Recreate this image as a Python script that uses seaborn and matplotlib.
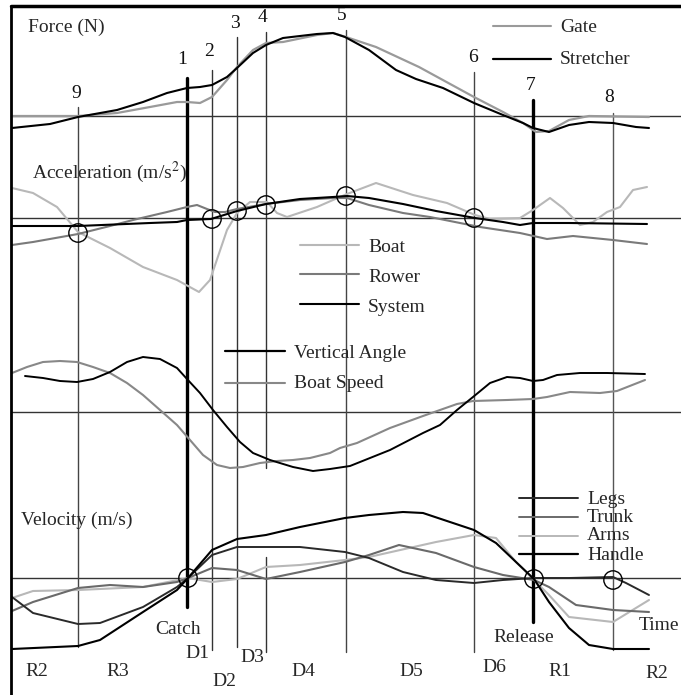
import matplotlib
matplotlib.use("Agg")
import matplotlib.pyplot as plt
import numpy as np
import pandas as pd
import seaborn as sns

# ---------------- data (time in cs from start of trace) ----------------
# Force (N, relative to the reference line)
stretcher_t = [0, 19, 33, 52.5, 65.5, 77.5, 87.5, 94, 100, 107.5, 112.5, 120.5, 127, 135.5,
               152.5, 160.5, 166.5, 178.5, 192, 202, 215.5, 231, 245.5, 255.5, 260.5, 268.5,
               278.5, 288.5, 300.5, 312, 318.5]
stretcher_f = [-120, -80, -10, 60, 140, 230, 280, 290, 310, 390, 480, 630, 710, 780,
               820, 830, 790, 660, 460, 370, 280, 130, 10, -70, -120, -160,
               -90, -60, -70, -110, -120]
gate_t = [0, 33, 52.5, 69, 82.5, 87.5, 94, 100, 107.5, 112.5, 120.5, 127, 135.5, 152.5,
          160.5, 167, 182, 203.5, 231, 245.5, 255.5, 262, 268.5, 278.5, 288.5, 318.5]
gate_f = [0, 0, 30, 90, 140, 140, 130, 190, 360, 490, 660, 730, 740, 810,
          830, 790, 690, 490, 190, 40, -70, -160, -150, -40, 0, -10]

# Acceleration (m/s^2)
system_t = [0, 33, 69, 82.5, 87.5, 99.5, 112.5, 127, 144, 160.5, 167.5, 178.5, 195.5, 212,
            231.5, 245.5, 254, 260.5, 278.5, 317.5]
system_a = [-0.8, -0.8, -0.5, -0.4, -0.2, -0.1, 0.7, 1.4, 1.9, 2.1, 2.2, 2.0, 1.4, 0.7,
            0.0, -0.4, -0.7, -0.5, -0.5, -0.6]
rower_t = [0, 10.5, 33, 49, 60.5, 77.5, 87.5, 92.5, 97.5, 101.5, 106.5, 112.5, 127, 144,
           160.5, 167.5, 178.5, 195.5, 209, 234, 254, 267.5, 280.5, 300.5, 317.5]
rower_a = [-2.7, -2.4, -1.6, -0.8, -0.2, 0.6, 1.1, 1.3, 0.9, 0.6, 0.6, 0.9, 1.4, 1.8,
           2.0, 2.0, 1.3, 0.5, 0.1, -0.9, -1.5, -2.1, -1.8, -2.2, -2.6]
boat_t = [0, 10.5, 22.5, 33, 49, 65.5, 82.5, 93.5, 99, 107.5, 112.5, 119, 127.5, 132.5,
          137.5, 152.5, 160.5, 167.5, 182, 200.5, 217.5, 231.5, 239, 254, 260.5,
          269, 275.5, 284, 290.5, 297.5, 304, 310.5, 317.5]
boat_a = [3.0, 2.5, 1.1, -1.4, -3.0, -4.9, -6.2, -7.4, -6.2, -1.2, 0.5, 1.6, 1.6, 0.5,
          0.1, 1.1, 1.8, 2.4, 3.5, 2.3, 1.5, 0.3, -0.1, 0.0, 0.8,
          2.0, 1.0, -0.7, -0.4, 0.6, 1.1, 2.8, 3.1]

# Oar vertical angle and boat speed (relative units)
angle_t = [6.5, 15.5, 24, 32.5, 40.5, 49, 57.5, 65.5, 74, 82.5, 87.5, 94, 100.5, 107.5,
           114, 120.5, 129, 140.5, 150.5, 159, 169, 189, 205.5, 214, 222.5, 230.5, 239,
           247.5, 254, 260.5, 265.5, 272.5, 284, 297.5, 316.5]
angle_v = [3.6, 3.4, 3.1, 3.0, 3.3, 4.0, 5.0, 5.5, 5.3, 4.4, 3.3, 1.9, 0.2, -1.5,
           -3.0, -4.1, -4.8, -5.5, -5.9, -5.7, -5.4, -3.8, -2.1, -1.3, 0.2, 1.5, 2.9,
           3.5, 3.4, 3.1, 3.2, 3.7, 3.9, 3.9, 3.8]
speed_t = [0, 7.5, 15.5, 24, 32.5, 40.5, 49, 57.5, 65.5, 74, 82.5, 89, 95.5, 102.5, 109,
           115.5, 124, 132.5, 140.5, 149, 159, 164, 172.5, 189, 205.5, 222.5, 230.5,
           247.5, 260.5, 267.5, 279, 294, 302.5, 316.5]
speed_v = [3.9, 4.5, 5.0, 5.1, 5.0, 4.5, 3.9, 2.9, 1.7, 0.2, -1.3, -2.8, -4.3, -5.3, -5.6,
           -5.5, -5.1, -4.9, -4.8, -4.6, -4.1, -3.6, -3.1, -1.6, -0.4, 0.8, 1.1,
           1.2, 1.3, 1.5, 2.0, 1.9, 2.1, 3.2]

# Velocity (m/s)
handle_t = [0, 33, 44, 65.5, 82.5, 88, 100, 112.5, 127, 144, 166.5, 178.5, 195.5, 205.5,
            231, 242, 252, 261, 268.5, 278.5, 288.5, 300.5, 318.5]
handle_v = [-3.55, -3.4, -3.1, -1.7, -0.6, 0.0, 1.4, 1.95, 2.15, 2.55, 3.0, 3.15, 3.3, 3.25,
            2.4, 1.75, 0.8, -0.05, -1.2, -2.5, -3.35, -3.55, -3.55]
legs_t = [0, 10.5, 33, 44, 65.5, 82.5, 88, 100, 112.5, 127, 144, 166.5, 178.5, 195.5,
          212, 231, 245.5, 261, 278.5, 300.5, 307, 318.5]
legs_v = [-0.95, -1.75, -2.3, -2.25, -1.45, -0.45, 0.0, 1.15, 1.55, 1.55, 1.55, 1.3, 1.0, 0.3,
          -0.1, -0.25, -0.1, 0.0, 0.0, 0.05, -0.25, -0.85]
trunk_t = [0, 10.5, 33, 49, 65.5, 82.5, 88, 100, 112.5, 127, 144, 166.5, 178.5, 193.5,
           212, 231, 245.5, 261, 268.5, 282, 300.5, 318.5]
trunk_v = [-1.65, -1.2, -0.5, -0.35, -0.45, -0.2, 0.0, 0.5, 0.4, -0.05, 0.3, 0.8, 1.15, 1.65,
           1.25, 0.55, 0.15, -0.1, -0.45, -1.35, -1.6, -1.7]
arms_t = [0, 10.5, 33, 65.5, 88, 100, 112.5, 127, 144, 166.5, 178.5, 212, 231, 242,
          252, 261, 268.5, 278.5, 300.5, 318.5]
arms_v = [-1.0, -0.65, -0.6, -0.45, 0.0, -0.2, -0.05, 0.55, 0.65, 0.9, 1.05, 1.8, 2.15, 2.0,
          0.8, -0.1, -0.85, -1.95, -2.2, -1.1]

# Stroke events 9,1..8 and their markers
event_labels = ["9", "1", "2", "3", "4", "5", "6", "7", "8"]
event_t = [33, 87.5, 100, 112.5, 127, 167, 231, 260.5, 300.5]
accel_mark_t = [33, 100, 112.5, 127, 167, 231]
accel_mark_v = [-1.5, -0.1, 0.7, 1.3, 2.2, 0.0]
vel_mark_t = [88, 261, 300.5]
vel_mark_v = [0.0, -0.05, -0.1]

phase_labels = ["R2", "R3", "Catch", "D1", "D2", "D3", "D4", "D5", "D6", "Release", "R1", "R2"]

# ---------------- layout ----------------
W, H = 681, 695
T_LEFT, T_RIGHT = -6, 334.5          # time range covering the full canvas width
FRAME_T = -0.5
panels = {                            # baseline (canvas px) and px per unit
    "force": (116, 0.1),
    "accel": (218, 10.0),
    "angle": (412, 10.0),
    "vel": (578, 20.0),
}

sns.set_theme(style="white")
plt.rcParams["font.family"] = ["Liberation Serif", "DejaVu Serif"]
plt.rcParams["mathtext.fontset"] = "stix"

fig = plt.figure(figsize=(W / 100, H / 100), dpi=100)
ax = fig.add_axes([0, 0, 1, 1])
ax.set_xlim(T_LEFT, T_RIGHT)
ax.set_ylim(H, 0)
ax.axis("off")

BLACK, DARK, MID, LIGHT = "#000000", "#2a2a2a", "#7a7a7a", "#b8b8b8"
FS = 14


def curve(panel, t, v, color, lw):
    base, k = panels[panel]
    df = pd.DataFrame({"t": t, "y": base - np.asarray(v) * k})
    sns.lineplot(data=df, x="t", y="y", ax=ax, color=color, linewidth=lw,
                 estimator=None, sort=False, legend=False, zorder=3)


# frame and reference lines
ax.plot([FRAME_T, FRAME_T], [6, H], color=BLACK, lw=2.0, zorder=5)
ax.plot([FRAME_T, T_RIGHT], [6, 6], color=BLACK, lw=2.5, zorder=5)
for name, (base, k) in panels.items():
    ax.plot([FRAME_T, T_RIGHT], [base, base], color="#333333", lw=1.0, zorder=2)

# event lines
event_top = [107, 78, 70, 37, 32, 30, 72, 100, 113]
event_bottom = [647, 607, 650, 647, 652, 652, 652, 622, 650]
event_lw = [1.0, 2.4, 1.0, 1.0, 1.0, 1.0, 1.0, 2.4, 1.0]
event_col = ["#444444", BLACK, "#333333", "#333333", "#333333", "#444444", "#444444", BLACK, "#555555"]
for t, y0, y1, lw, c in zip(event_t, event_top, event_bottom, event_lw, event_col):
    if t == 127:
        ax.plot([t, t], [y0, 468], color=c, lw=lw, zorder=2)
        ax.plot([t, t], [557, y1], color=c, lw=lw, zorder=2)
    else:
        ax.plot([t, t], [y0, y1], color=c, lw=lw, zorder=2)

label_pos = [(32, 93), (85, 59), (98.5, 52), (111.5, 23), (125, 18), (165, 15),
             (230.5, 57), (259.5, 86), (298.5, 98)]
for lab, (x, y) in zip(event_labels, label_pos):
    ax.text(x, y, lab, fontsize=FS, ha="center", va="center", color="#111111")

# curves
curve("force", gate_t, gate_f, "#9a9a9a", 1.6)
curve("force", stretcher_t, stretcher_f, BLACK, 1.5)
curve("accel", boat_t, boat_a, LIGHT, 1.5)
curve("accel", rower_t, rower_a, MID, 1.5)
curve("accel", system_t, system_a, BLACK, 1.5)
curve("angle", speed_t, speed_v, "#888888", 1.5)
curve("angle", angle_t, angle_v, BLACK, 1.4)
curve("vel", arms_t, arms_v, LIGHT, 1.5)
curve("vel", trunk_t, trunk_v, "#6a6a6a", 1.5)
curve("vel", legs_t, legs_v, DARK, 1.4)
curve("vel", handle_t, handle_v, BLACK, 1.5)

# intersection markers
for panel, mt, mv in (("accel", accel_mark_t, accel_mark_v), ("vel", vel_mark_t, vel_mark_v)):
    base, k = panels[panel]
    ax.scatter(mt, base - np.asarray(mv) * k, s=175, facecolors="none",
               edgecolors=BLACK, linewidths=1.0, zorder=6)

# panel titles
ax.text(8, 27, "Force (N)", fontsize=FS, ha="left", va="center")
ax.text(10, 172, "Acceleration (m/s$^{2}$)", fontsize=FS, ha="left", va="center")
ax.text(4.5, 520, "Velocity (m/s)", fontsize=FS, ha="left", va="center")


# inline legends
def legend_entry(t0, t1, y, ty, text, color, lw):
    ax.plot([t0, t1], [y, y], color=color, lw=lw, zorder=4)
    ax.text(t1 + 4.5, ty, text, fontsize=FS, ha="left", va="center")


legend_entry(240.5, 269.5, 26, 28, "Gate", "#9a9a9a", 1.5)
legend_entry(240.5, 269.5, 59, 60, "Stretcher", BLACK, 1.6)
legend_entry(144, 173.5, 245, 247, "Boat", LIGHT, 1.5)
legend_entry(144, 173.5, 274, 277, "Rower", MID, 1.5)
legend_entry(144, 173.5, 304, 307, "System", BLACK, 1.5)
legend_entry(106.5, 136.5, 351, 353, "Vertical Angle", BLACK, 1.6)
legend_entry(106.5, 136.5, 383, 384, "Boat Speed", "#888888", 1.5)
legend_entry(253.5, 283, 498, 500, "Legs", DARK, 1.4)
legend_entry(253.5, 283, 517, 518, "Trunk", "#6a6a6a", 1.4)
legend_entry(253.5, 283, 536, 535, "Arms", LIGHT, 1.4)
legend_entry(253.5, 283, 554, 556, "Handle", BLACK, 1.6)

# phase labels along the bottom
phase_pos = [(12.5, 671), (53, 671), (83, 630), (92.5, 654), (106, 682), (120, 658),
             (145.5, 671), (199.5, 672), (241, 668), (256, 638), (274, 672), (322.5, 673)]
for lab, (x, y) in zip(phase_labels, phase_pos):
    ax.text(x, y, lab, fontsize=FS, ha="center", va="center")
ax.text(313.5, 625, "Time", fontsize=FS, ha="left", va="center")

fig.savefig("out.png", dpi=100)
